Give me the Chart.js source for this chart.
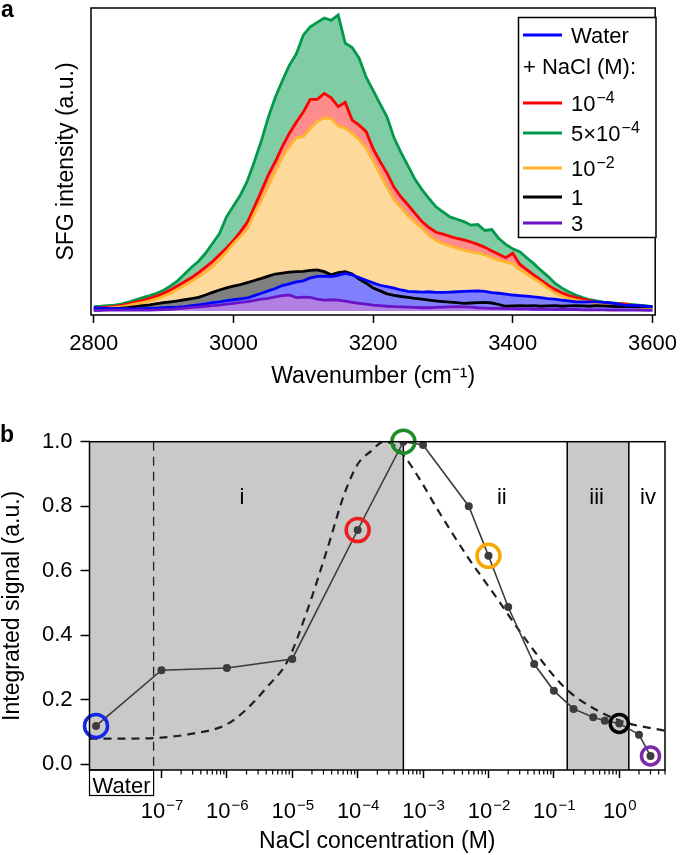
<!DOCTYPE html>
<html>
<head>
<meta charset="utf-8">
<script src="https://cdn.jsdelivr.net/npm/chart.js@4.4.1/dist/chart.umd.min.js"></script>
<style>
  body { margin: 0; background: #fff; }
  canvas { position: absolute; left: 0; }
  #specChart { top: 0; }
  #signalChart { top: 400px; }
</style>
</head>
<body>
<canvas id="specChart" width="685" height="400"></canvas>
<canvas id="signalChart" width="685" height="455"></canvas>
<script>
// ---- panel a: SFG spectra ----
var wavenumber = [2800,2810,2820,2830,2840,2850,2860,2870,2880,2890,
  2900,2910,2920,2930,2940,2950,2960,2970,2980,2990,
  3000,3010,3020,3030,3040,3050,3060,3070,3080,3090,
  3100,3110,3120,3130,3140,3150,3160,3170,3180,3190,
  3200,3210,3220,3230,3240,3250,3260,3270,3280,3290,
  3300,3310,3320,3330,3340,3350,3360,3370,3380,3390,
  3400,3410,3420,3430,3440,3450,3460,3470,3480,3490,
  3500,3510,3520,3530,3540,3550,3560,3570,3580,3590,3600];
var xTicksA = [2800, 3000, 3200, 3400, 3600];

var water = [.011,.010,.009,.008,.008,.007,.007,.008,.009,.010,
  .011,.012,.013,.015,.018,.021,.024,.028,.031,.035,
  .038,.041,.044,.052,.060,.068,.076,.086,.092,.098,
  .102,.112,.117,.118,.116,.120,.127,.122,.113,.104,
  .095,.087,.082,.077,.071,.066,.065,.064,.065,.063,
  .063,.064,.065,.066,.067,.068,.066,.062,.060,.057,
  .054,.052,.050,.048,.045,.042,.040,.037,.034,.031,
  .031,.031,.031,.029,.027,.024,.020,.019,.018,.016,.015];
var nacl1e4 = [.009,.011,.013,.016,.019,.024,.030,.036,.043,.050,
  .060,.072,.085,.099,.113,.130,.148,.167,.190,.213,
  .238,.268,.300,.352,.405,.460,.505,.555,.600,.638,
  .672,.715,.715,.735,.720,.690,.705,.645,.628,.606,
  .548,.505,.465,.418,.385,.358,.330,.302,.282,.266,
  .260,.252,.245,.240,.233,.225,.215,.203,.192,.180,
  .195,.158,.140,.122,.105,.088,.074,.062,.052,.046,
  .040,.035,.030,.028,.026,.025,.024,.020,.018,.014,.012];
var nacl5e4 = [.015,.016,.018,.020,.024,.030,.038,.045,.052,.060,
  .070,.085,.102,.125,.148,.168,.195,.228,.262,.318,
  .355,.392,.440,.505,.575,.655,.722,.778,.830,.868,
  .932,.960,.975,.990,.982,1.0,.905,.890,.854,.790,
  .745,.700,.655,.585,.535,.490,.445,.410,.380,.352,
  .335,.318,.310,.302,.290,.292,.272,.275,.245,.225,
  .210,.200,.180,.160,.138,.118,.095,.078,.065,.054,
  .045,.038,.034,.030,.028,.026,.024,.022,.020,.018,.015];
var nacl1e2 = [.007,.008,.010,.012,.015,.019,.024,.028,.034,.041,
  .050,.060,.073,.087,.100,.115,.132,.150,.174,.200,
  .228,.252,.278,.330,.375,.425,.472,.520,.556,.585,
  .590,.617,.640,.652,.650,.625,.618,.600,.578,.550,
  .508,.462,.418,.375,.350,.322,.300,.280,.255,.238,
  .228,.220,.212,.206,.200,.196,.190,.180,.172,.165,
  .160,.140,.125,.110,.096,.077,.062,.050,.043,.037,
  .033,.030,.027,.025,.023,.021,.020,.016,.013,.011,.009];
var nacl1 = [.003,.004,.006,.008,.010,.012,.015,.018,.021,.025,
  .028,.031,.034,.038,.042,.046,.054,.063,.071,.078,
  .084,.089,.096,.103,.110,.118,.125,.128,.131,.133,
  .134,.137,.139,.133,.122,.130,.133,.125,.108,.094,
  .078,.068,.058,.053,.049,.046,.043,.040,.037,.034,
  .032,.030,.028,.026,.027,.028,.029,.027,.022,.016,
  .017,.018,.017,.018,.016,.017,.018,.016,.017,.018,
  .017,.016,.018,.017,.016,.015,.016,.015,.014,.015,.014];
var nacl3 = [.002,.002,.003,.003,.003,.003,.003,.003,.003,.004,
  .005,.006,.008,.010,.012,.014,.016,.018,.020,.023,
  .026,.029,.032,.036,.040,.043,.048,.052,.054,.045,
  .047,.046,.040,.037,.038,.037,.033,.029,.026,.023,
  .020,.018,.016,.015,.014,.013,.012,.011,.011,.012,
  .013,.014,.015,.014,.013,.011,.010,.009,.009,.008,
  .008,.007,.007,.006,.006,.006,.005,.005,.005,.005,
  .004,.004,.004,.004,.003,.003,.003,.003,.003,.002,.002];
var legendLabels = ['Water', '10^−4', '5×10^−4', '10^−2', '1', '3'];

// ---- panel b: integrated signal vs NaCl concentration ----
var concentration = ['water', 1e-7, 1e-6, 1e-5, 1e-4, 5e-4, 1e-3, 5e-3, 1e-2, 2e-2, 5e-2, 0.1, 0.2, 0.4, 0.6, 1, 2, 3];
var integratedSignal = [0.118, 0.291, 0.298, 0.326, 0.726, 1.0, 0.99, 0.80, 0.646, 0.487, 0.31, 0.227, 0.171, 0.145, 0.134, 0.126, 0.091, 0.025];
var modelLogConc = [-8.1, -7.5, -7.0, -6.5, -6.05, -5.84, -5.6, -5.38, -5.07, -4.77, -4.46, -4.2, -4.0, -3.8, -3.6, -3.45, -3.28, -3.04, -2.78, -2.32, -1.96, -1.35, -0.85, -0.44, 0.06, 0.7];
var modelSignal = [0.079, 0.079, 0.082, 0.095, 0.118, 0.145, 0.19, 0.24, 0.32, 0.477, 0.67, 0.84, 0.93, 0.97, 1.0, 0.99, 0.953, 0.88, 0.79, 0.643, 0.54, 0.364, 0.24, 0.178, 0.131, 0.103];
var highlightIdx = [0, 4, 5, 8, 15, 17];
var highlightColor = ['#1428e6', '#ee1c1c', '#1e8c24', '#f7a800', '#000000', '#7d2aa8'];
var regionEdges = [5e-4, 0.16, 1.4];
var regionNames = ['i', 'ii', 'iii', 'iv'];
var decades = [-7, -6, -5, -4, -3, -2, -1, 0];
var yTicksB = [0, 0.2, 0.4, 0.6, 0.8, 1.0];

var FONT = '"Liberation Sans", Arial, sans-serif';
Chart.defaults.font.family = FONT;
Chart.defaults.color = '#000';

function toPoints(vals) {
  return wavenumber.map(function (w, i) { return { x: w, y: vals[i] }; });
}

// draws "10" with a raised exponent
function drawPower(ctx, text, x, y, size, supSize, align) {
  var parts = text.split('^');
  ctx.font = size + 'px ' + FONT;
  var w1 = ctx.measureText(parts[0]).width;
  var w2 = 0;
  if (parts[1]) { ctx.font = supSize + 'px ' + FONT; w2 = ctx.measureText(parts[1]).width; }
  var x0 = align === 'center' ? x - (w1 + w2) / 2 : x;
  ctx.textAlign = 'left';
  ctx.textBaseline = 'alphabetic';
  ctx.font = size + 'px ' + FONT;
  ctx.fillText(parts[0], x0, y);
  if (parts[1]) {
    ctx.font = supSize + 'px ' + FONT;
    ctx.fillText(parts[1], x0 + w1 + 1, y - 8.5);
  }
}

var specColors = ['#0000ff', '#ff0000', '#009a4a', '#ffb52e', '#000000', '#6a14c8'];
var specFills = ['#8080ff', '#ff8c8c', '#80cca5', '#fdda9c', '#808080', '#b27fe3'];
var specOrder = [2, 5, 6, 4, 3, 1];
var specData = [water, nacl1e4, nacl5e4, nacl1e2, nacl1, nacl3];

var framePlugin = {
  id: 'frame',
  afterDraw: function (chart) {
    var a = chart.chartArea, ctx = chart.ctx;
    ctx.save();
    ctx.strokeStyle = '#000';
    ctx.lineWidth = 1.5;
    ctx.strokeRect(a.left, a.top, a.right - a.left, a.bottom - a.top);
    ctx.restore();
  }
};

var specLegend = {
  id: 'specLegend',
  afterDraw: function (chart) {
    var ctx = chart.ctx;
    ctx.save();
    ctx.fillStyle = '#fff';
    ctx.fillRect(518.5, 17.5, 137.5, 220);
    ctx.strokeStyle = '#000';
    ctx.lineWidth = 1.5;
    ctx.strokeRect(518.5, 17.5, 137.5, 220);
    var lineY = [35, 103, 133, 168, 197, 223];
    ctx.fillStyle = '#000';
    legendLabels.forEach(function (lab, i) {
      ctx.strokeStyle = specColors[i];
      ctx.lineWidth = 3;
      ctx.beginPath();
      ctx.moveTo(523, lineY[i]);
      ctx.lineTo(562, lineY[i]);
      ctx.stroke();
      drawPower(ctx, lab, 571, lineY[i] + 8, 22, 16, 'left');
    });
    ctx.font = '22px ' + FONT;
    ctx.fillText('+ NaCl (M):', 523, 74);
    ctx.font = 'bold 23px ' + FONT;
    ctx.fillText('a', 1, 17);
    ctx.restore();
  }
};

new Chart(document.getElementById('specChart'), {
  type: 'line',
  data: {
    datasets: specData.map(function (vals, i) {
      return {
        label: legendLabels[i],
        data: toPoints(vals),
        borderColor: specColors[i],
        backgroundColor: specFills[i],
        borderWidth: 2.8,
        pointRadius: 0,
        fill: 'origin',
        order: specOrder[i]
      };
    })
  },
  options: {
    responsive: false,
    animation: false,
    layout: { padding: { top: 8, right: 22, bottom: 0, left: 0 } },
    plugins: {
      legend: { display: false },
      tooltip: { enabled: false },
      filler: { drawTime: 'beforeDatasetsDraw' }
    },
    scales: {
      x: {
        type: 'linear',
        min: 2796,
        max: 3604,
        afterBuildTicks: function (s) { s.ticks = xTicksA.map(function (v) { return { value: v }; }); },
        ticks: { font: { size: 22 }, padding: 8, maxRotation: 0, callback: function (v) { return String(v); } },
        grid: { drawOnChartArea: false, tickLength: 8, tickWidth: 1.5, tickColor: '#000' },
        border: { display: false },
        title: { display: true, text: 'Wavenumber (cm⁻¹)', font: { size: 23, lineHeight: 1 }, padding: { top: 0, bottom: 11.5 } },
        afterFit: function (s) { s.height = 85; }
      },
      y: {
        min: -0.0135,
        max: 1.0236,
        ticks: { display: false },
        grid: { display: false },
        border: { display: false },
        title: { display: true, text: 'SFG intensity (a.u.)', font: { size: 23, lineHeight: 1 }, padding: { top: 55, bottom: 0 } },
        afterFit: function (s) { s.width = 91; }
      }
    }
  },
  plugins: [framePlugin, specLegend]
});

// ---- panel b ----
var WATER_X = -8;
var WATER_EDGE = -7.12;
var xPos = concentration.map(function (c) { return c === 'water' ? WATER_X : Math.log10(c); });
var measured = xPos.map(function (x, i) { return { x: x, y: integratedSignal[i] }; });
var model = modelLogConc.map(function (x, i) { return { x: x, y: modelSignal[i] }; });
var rings = highlightIdx.map(function (i) { return { x: xPos[i], y: integratedSignal[i] }; });
var ringRadius = highlightIdx.map(function (i) { return concentration[i] >= 1 ? 9 : 11.5; });

var signalDecor = {
  id: 'signalDecor',
  beforeDraw: function (chart) {
    var a = chart.chartArea, ctx = chart.ctx, sx = chart.scales.x;
    var e = regionEdges.map(function (c) { return sx.getPixelForValue(Math.log10(c)); });
    ctx.save();
    ctx.fillStyle = '#c9c9c9';
    ctx.fillRect(a.left, a.top, e[0] - a.left, a.bottom - a.top);
    ctx.fillRect(e[1], a.top, e[2] - e[1], a.bottom - a.top);
    ctx.strokeStyle = '#000';
    ctx.lineWidth = 1.5;
    e.forEach(function (px) {
      ctx.beginPath(); ctx.moveTo(px, a.top); ctx.lineTo(px, a.bottom); ctx.stroke();
    });
    var wx = sx.getPixelForValue(WATER_EDGE);
    ctx.strokeStyle = '#222';
    ctx.lineWidth = 1.3;
    ctx.setLineDash([9, 6]);
    ctx.beginPath(); ctx.moveTo(wx, a.top); ctx.lineTo(wx, a.bottom); ctx.stroke();
    ctx.setLineDash([]);
    // region names
    var nameX = [Math.log10(1.7e-6), Math.log10(1.6e-2), Math.log10(0.45), Math.log10(2.75)];
    ctx.fillStyle = '#000';
    ctx.font = '22px ' + FONT;
    ctx.textAlign = 'center';
    ctx.textBaseline = 'alphabetic';
    regionNames.forEach(function (n, i) { ctx.fillText(n, sx.getPixelForValue(nameX[i]), a.top + 62); });
    ctx.restore();
  },
  afterDraw: function (chart) {
    var a = chart.chartArea, ctx = chart.ctx, sx = chart.scales.x;
    ctx.save();
    ctx.strokeStyle = '#000';
    ctx.lineWidth = 1.5;
    ctx.strokeRect(a.left, a.top, a.right - a.left, a.bottom - a.top);
    // minor ticks
    ctx.lineWidth = 1.2;
    decades.forEach(function (d) {
      for (var k = 2; k <= 9; k++) {
        var v = d + Math.log10(k);
        if (v > sx.max + 1e-9) break;
        var px = sx.getPixelForValue(v);
        ctx.beginPath(); ctx.moveTo(px, a.bottom); ctx.lineTo(px, a.bottom + 4.5); ctx.stroke();
      }
    });
    // decade labels
    ctx.fillStyle = '#000';
    decades.forEach(function (d) {
      var exp = d < 0 ? '−' + (-d) : String(d);
      drawPower(ctx, '10^' + exp, sx.getPixelForValue(d), a.bottom + 48, 22, 15, 'center');
    });
    // water box
    var wx = sx.getPixelForValue(WATER_EDGE);
    ctx.lineWidth = 1.2;
    ctx.strokeRect(a.left, a.bottom, wx - a.left, 25.5);
    ctx.font = '22px ' + FONT;
    ctx.textAlign = 'center';
    ctx.textBaseline = 'alphabetic';
    ctx.fillText('Water', (a.left + wx) / 2, a.bottom + 22.5);
    ctx.textAlign = 'left';
    ctx.font = 'bold 23px ' + FONT;
    ctx.fillText('b', 0, a.top);
    ctx.restore();
  }
};

new Chart(document.getElementById('signalChart'), {
  type: 'line',
  data: {
    datasets: [
      {
        data: rings,
        showLine: false,
        pointRadius: ringRadius,
        pointBorderColor: highlightColor,
        pointBackgroundColor: 'rgba(0,0,0,0)',
        pointBorderWidth: 3.5,
        clip: false,
        order: 0
      },
      {
        data: measured,
        borderColor: '#3c3c3c',
        borderWidth: 1.6,
        pointRadius: 4,
        pointBackgroundColor: '#3c3c3c',
        pointBorderWidth: 0,
        order: 1
      },
      {
        data: model,
        borderColor: '#1e1e2a',
        borderWidth: 2.2,
        borderDash: [8, 6],
        pointRadius: 0,
        cubicInterpolationMode: 'monotone',
        order: 2
      }
    ]
  },
  options: {
    responsive: false,
    animation: false,
    layout: { padding: { top: 41.7, right: 20, bottom: 0, left: 0 } },
    plugins: { legend: { display: false }, tooltip: { enabled: false } },
    scales: {
      x: {
        type: 'linear',
        min: -8.1,
        max: Math.log10(5),
        afterBuildTicks: function (s) { s.ticks = decades.map(function (v) { return { value: v }; }); },
        ticks: { display: false },
        grid: { drawOnChartArea: false, tickLength: 8, tickWidth: 1.5, tickColor: '#000' },
        border: { display: false },
        title: { display: true, text: 'NaCl concentration (M)', font: { size: 23, lineHeight: 1 }, padding: { top: 0, bottom: 2 } },
        afterFit: function (s) { s.height = 85; }
      },
      y: {
        min: -0.0186,
        max: 1.0,
        afterBuildTicks: function (s) { s.ticks = yTicksB.map(function (v) { return { value: v }; }); },
        ticks: { font: { size: 22 }, padding: 8, callback: function (v) { return v.toFixed(1); } },
        grid: { drawOnChartArea: false, tickLength: 9, tickWidth: 1.5, tickColor: '#000' },
        border: { display: false },
        title: { display: true, text: 'Integrated signal (a.u.)', font: { size: 23, lineHeight: 1 }, padding: { top: 1, bottom: 0 } },
        afterFit: function (s) { s.width = 89.5; }
      }
    }
  },
  plugins: [signalDecor]
});
</script>
</body>
</html>
